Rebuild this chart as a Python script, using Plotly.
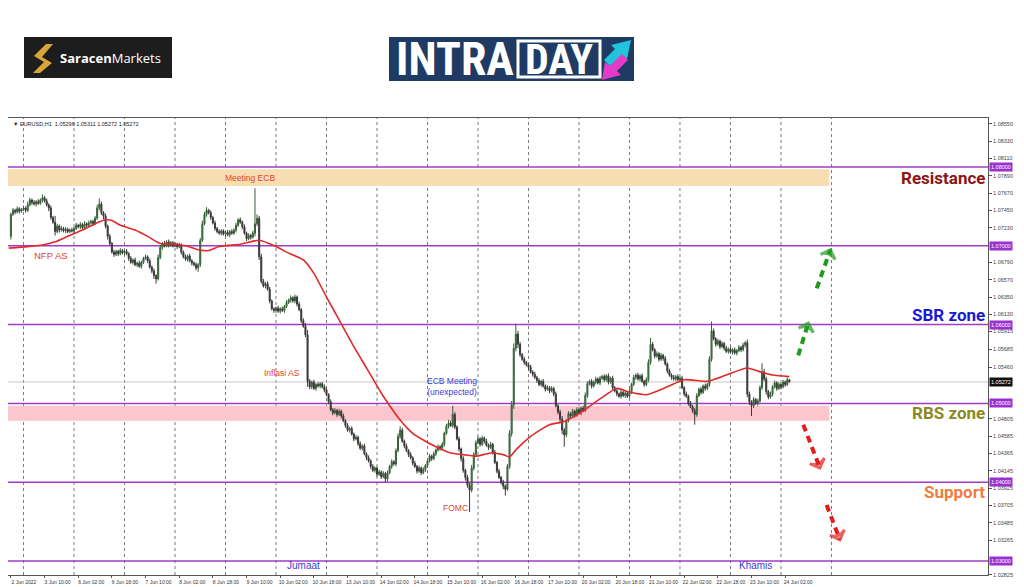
import plotly.graph_objects as go

# ---------------- data (EURUSD H1) ----------------
PIP = 0.0001
first_open = 1.0712

c_0602 = [1.0740, 1.0745, 1.0743, 1.0747, 1.0744, 1.0746]
c_0603 = [1.0748, 1.0745, 1.0752, 1.0758, 1.0755, 1.0753, 1.0756, 1.0754, 1.0758, 1.0761, 1.0757, 1.0752,
          1.0748, 1.0736, 1.0730, 1.0718, 1.0725, 1.0720, 1.0722, 1.0719, 1.0721, 1.0718, 1.0720, 1.0719]
c_0606 = [1.0722, 1.0726, 1.0724, 1.0727, 1.0723, 1.0728, 1.0726, 1.0729, 1.0731, 1.0728, 1.0735, 1.0748,
          1.0753, 1.0742, 1.0738, 1.0725, 1.0712, 1.0703, 1.0692, 1.0689, 1.0693, 1.0690, 1.0694, 1.0691]
c_0607 = [1.0693, 1.0690, 1.0684, 1.0679, 1.0682, 1.0676, 1.0678, 1.0674, 1.0679, 1.0684, 1.0686, 1.0681,
          1.0673, 1.0668, 1.0662, 1.0658, 1.0685, 1.0698, 1.0703, 1.0700, 1.0705, 1.0701, 1.0704, 1.0700]
c_0608 = [1.0702, 1.0699, 1.0701, 1.0692, 1.0686, 1.0683, 1.0687, 1.0681, 1.0678, 1.0676, 1.0672, 1.0676,
          1.0707, 1.0728, 1.0740, 1.0745, 1.0742, 1.0736, 1.0729, 1.0722, 1.0718, 1.0716, 1.0719, 1.0715]
c_0609 = [1.0717, 1.0714, 1.0718, 1.0716, 1.0720, 1.0726, 1.0733, 1.0730, 1.0724, 1.0716, 1.0709, 1.0713,
          1.0711, 1.0716, 1.0728, 1.0735, 1.0686, 1.0655, 1.0649, 1.0652, 1.0645, 1.0630, 1.0620, 1.0618]
c_0610 = [1.0621, 1.0617, 1.0620, 1.0618, 1.0623, 1.0628, 1.0631, 1.0634, 1.0630, 1.0635, 1.0626, 1.0619,
          1.0605, 1.0598, 1.0587, 1.0528, 1.0521, 1.0527, 1.0519, 1.0524, 1.0522, 1.0525, 1.0521, 1.0517]
c_0613 = [1.0511, 1.0502, 1.0492, 1.0488, 1.0491, 1.0486, 1.0490, 1.0484, 1.0478, 1.0472, 1.0466, 1.0468,
          1.0461, 1.0455, 1.0457, 1.0449, 1.0443, 1.0446, 1.0436, 1.0431, 1.0427, 1.0420, 1.0415, 1.0418]
c_0614 = [1.0410, 1.0413, 1.0407, 1.0411, 1.0404, 1.0412, 1.0420, 1.0426, 1.0423, 1.0440, 1.0458, 1.0466,
          1.0452, 1.0446, 1.0440, 1.0435, 1.0431, 1.0424, 1.0420, 1.0414, 1.0418, 1.0412, 1.0416, 1.0421]
c_0615 = [1.0427, 1.0433, 1.0430, 1.0436, 1.0441, 1.0445, 1.0443, 1.0448, 1.0462, 1.0471, 1.0475, 1.0472,
          1.0486, 1.0470, 1.0455, 1.0442, 1.0430, 1.0415, 1.0406, 1.0396, 1.0390, 1.0418, 1.0435, 1.0450]
c_0616 = [1.0455, 1.0448, 1.0456, 1.0452, 1.0447, 1.0444, 1.0448, 1.0438, 1.0425, 1.0414, 1.0406, 1.0400,
          1.0395, 1.0391, 1.0420, 1.0462, 1.0498, 1.0570, 1.0588, 1.0575, 1.0562, 1.0556, 1.0552, 1.0549]
c_0617 = [1.0546, 1.0540, 1.0537, 1.0533, 1.0529, 1.0524, 1.0528, 1.0522, 1.0518, 1.0520, 1.0516, 1.0519,
          1.0512, 1.0497, 1.0489, 1.0480, 1.0466, 1.0460, 1.0478, 1.0487, 1.0484, 1.0490, 1.0485, 1.0492]
c_0620 = [1.0488, 1.0494, 1.0491, 1.0510, 1.0525, 1.0528, 1.0522, 1.0527, 1.0531, 1.0526, 1.0532, 1.0534,
          1.0530, 1.0535, 1.0527, 1.0532, 1.0520, 1.0516, 1.0512, 1.0509, 1.0514, 1.0510, 1.0513, 1.0509]
c_0621 = [1.0515, 1.0524, 1.0533, 1.0536, 1.0531, 1.0535, 1.0528, 1.0524, 1.0530, 1.0552, 1.0575, 1.0568,
          1.0560, 1.0563, 1.0556, 1.0561, 1.0557, 1.0550, 1.0541, 1.0536, 1.0533, 1.0531, 1.0534, 1.0530]
c_0622 = [1.0532, 1.0520, 1.0512, 1.0509, 1.0500, 1.0496, 1.0491, 1.0486, 1.0510, 1.0518, 1.0514, 1.0522,
          1.0519, 1.0524, 1.0556, 1.0592, 1.0582, 1.0575, 1.0579, 1.0572, 1.0576, 1.0570, 1.0566, 1.0569]
c_0623 = [1.0565, 1.0568, 1.0564, 1.0567, 1.0571, 1.0568, 1.0574, 1.0577, 1.0512, 1.0502, 1.0497, 1.0505,
          1.0500, 1.0503, 1.0520, 1.0540, 1.0531, 1.0515, 1.0508, 1.0512, 1.0521, 1.0526, 1.0519, 1.0524]
c_0624 = [1.0521, 1.0527, 1.0524, 1.0530, 1.0527]

# upper / lower wick lengths in pips
u_0602 = [2, 3, 2, 3, 2, 2]
d_0602 = [4, 2, 3, 2, 3, 2]
u_0603 = [3, 2, 4, 3, 2, 3, 2, 3, 2, 4, 2, 3, 2, 3, 2, 8, 3, 2, 3, 2, 3, 2, 2, 3]
d_0603 = [2, 3, 2, 2, 3, 2, 3, 2, 2, 3, 2, 2, 4, 3, 2, 5, 2, 3, 2, 2, 3, 2, 2, 2]
u_0606 = [2, 3, 2, 3, 2, 3, 2, 3, 2, 2, 3, 4, 7, 3, 2, 3, 2, 3, 2, 3, 2, 2, 3, 2]
d_0606 = [3, 2, 2, 3, 2, 2, 3, 2, 2, 3, 2, 2, 3, 3, 4, 3, 4, 3, 2, 3, 2, 3, 2, 2]
u_0607 = [2, 3, 2, 3, 2, 3, 2, 3, 2, 2, 3, 2, 3, 2, 3, 2, 4, 3, 2, 3, 2, 3, 2, 2]
d_0607 = [3, 2, 3, 2, 3, 2, 3, 2, 3, 2, 2, 3, 2, 3, 4, 6, 2, 2, 3, 2, 2, 3, 2, 2]
u_0608 = [3, 2, 3, 2, 2, 3, 2, 3, 2, 2, 3, 2, 3, 4, 3, 4, 2, 3, 2, 3, 2, 3, 2, 2]
d_0608 = [2, 3, 2, 3, 2, 2, 3, 2, 3, 2, 3, 5, 3, 2, 2, 3, 2, 3, 2, 3, 2, 2, 3, 2]
u_0609 = [2, 3, 2, 3, 2, 3, 2, 3, 2, 3, 2, 3, 2, 3, 45, 5, 3, 4, 3, 2, 3, 3, 2, 2]
d_0609 = [3, 2, 3, 2, 2, 3, 2, 2, 3, 2, 3, 2, 3, 2, 4, 3, 4, 3, 2, 3, 2, 3, 2, 3]
u_0610 = [2, 3, 2, 3, 2, 3, 2, 3, 2, 3, 2, 3, 2, 3, 4, 6, 3, 2, 3, 2, 3, 2, 2, 3]
d_0610 = [3, 2, 3, 2, 3, 2, 2, 3, 2, 3, 3, 2, 3, 2, 3, 7, 3, 3, 2, 3, 2, 3, 2, 3]
u_0613 = [3, 2, 3, 2, 3, 2, 3, 2, 3, 2, 3, 2, 3, 2, 3, 2, 3, 2, 3, 2, 3, 2, 3, 2]
d_0613 = [2, 3, 2, 3, 2, 3, 2, 3, 2, 3, 2, 3, 2, 3, 2, 3, 2, 3, 2, 3, 2, 3, 2, 3]
u_0614 = [2, 3, 2, 3, 2, 3, 2, 3, 2, 3, 4, 5, 3, 2, 3, 2, 3, 2, 3, 2, 3, 2, 3, 2]
d_0614 = [3, 2, 3, 2, 4, 3, 2, 3, 2, 3, 2, 3, 2, 3, 2, 3, 2, 3, 2, 3, 2, 3, 2, 3]
u_0615 = [2, 3, 2, 3, 2, 3, 2, 3, 2, 3, 4, 3, 11, 3, 2, 3, 2, 3, 2, 3, 3, 4, 3, 3]
d_0615 = [3, 2, 3, 2, 3, 2, 3, 2, 3, 2, 3, 2, 3, 3, 2, 3, 4, 3, 4, 3, 28, 3, 3, 2]
u_0616 = [3, 2, 3, 2, 3, 2, 3, 2, 3, 2, 3, 2, 3, 2, 3, 4, 5, 6, 13, 4, 3, 2, 3, 2]
d_0616 = [2, 3, 2, 3, 2, 3, 2, 3, 2, 3, 2, 3, 4, 8, 2, 3, 4, 5, 4, 5, 3, 2, 3, 2]
u_0617 = [2, 3, 2, 3, 2, 3, 2, 3, 2, 3, 2, 3, 2, 3, 2, 3, 4, 3, 2, 3, 2, 3, 2, 3]
d_0617 = [3, 2, 3, 2, 3, 2, 3, 2, 3, 2, 3, 2, 3, 2, 3, 4, 5, 15, 3, 2, 3, 2, 3, 2]
u_0620 = [3, 2, 3, 4, 3, 2, 3, 2, 3, 2, 3, 2, 3, 2, 3, 2, 3, 2, 3, 2, 3, 2, 3, 2]
d_0620 = [2, 3, 2, 2, 3, 2, 3, 2, 3, 2, 3, 2, 3, 2, 3, 2, 3, 2, 3, 2, 3, 2, 3, 2]
u_0621 = [3, 2, 3, 2, 3, 2, 3, 2, 3, 4, 8, 3, 2, 3, 2, 3, 2, 3, 2, 3, 2, 3, 2, 3]
d_0621 = [2, 3, 2, 3, 2, 3, 2, 3, 2, 3, 3, 2, 3, 2, 3, 2, 3, 2, 3, 2, 3, 2, 3, 2]
u_0622 = [2, 3, 2, 3, 2, 3, 2, 3, 3, 2, 3, 2, 3, 2, 4, 12, 3, 2, 3, 2, 3, 2, 3, 2]
d_0622 = [3, 2, 3, 2, 3, 2, 3, 13, 3, 2, 3, 2, 3, 2, 3, 3, 2, 3, 2, 3, 2, 3, 2, 3]
u_0623 = [3, 2, 3, 2, 3, 2, 3, 2, 4, 3, 2, 3, 2, 3, 3, 11, 4, 3, 2, 3, 2, 3, 2, 3]
d_0623 = [2, 3, 2, 3, 2, 3, 2, 3, 4, 4, 13, 3, 2, 3, 2, 3, 3, 4, 3, 2, 3, 2, 3, 2]
u_0624 = [2, 3, 2, 3, 1]
d_0624 = [3, 2, 3, 2, 0]

# moving average (red line) sampled at bar numbers
ma_bar = [-1, 8, 15, 21, 27, 34, 40, 45, 48, 52, 59, 65, 71, 78, 83, 89, 94, 99, 109, 118,
          126, 131, 139, 144, 150, 156, 163, 169, 177, 185, 191, 197, 202, 209, 215, 221, 228, 234, 237, 240,
          247, 252, 256, 263, 270, 277, 288, 293, 302, 312, 320, 331, 340, 350, 356, 362, 370]
ma_val = [1.0697, 1.0699, 1.0701, 1.0705, 1.0712, 1.0720, 1.0728, 1.0733, 1.0732, 1.0726,
          1.0720, 1.0712, 1.0703, 1.0702, 1.0700, 1.0695, 1.0694, 1.0699, 1.0702, 1.0707,
          1.0699, 1.0692, 1.0682, 1.0665, 1.0635, 1.0606, 1.0572, 1.0545, 1.0509, 1.0479,
          1.0462, 1.0452, 1.0445, 1.0437, 1.0435, 1.0433, 1.0437, 1.0435, 1.0432, 1.0441,
          1.0458, 1.0467, 1.0473, 1.0477, 1.0487, 1.0500, 1.0519, 1.0515, 1.0511, 1.0521,
          1.0530, 1.0528, 1.0536, 1.0545, 1.0540, 1.0536, 1.0534]

x_tick_text = ["2 Jun 2022", "3 Jun 10:00", "6 Jun 02:00", "6 Jun 18:00", "7 Jun 10:00", "8 Jun 02:00",
               "8 Jun 18:00", "9 Jun 10:00", "10 Jun 02:00", "10 Jun 18:00", "13 Jun 10:00", "14 Jun 02:00",
               "14 Jun 18:00", "15 Jun 10:00", "16 Jun 02:00", "16 Jun 18:00", "17 Jun 10:00", "20 Jun 02:00",
               "20 Jun 18:00", "21 Jun 10:00", "22 Jun 02:00", "22 Jun 18:00", "23 Jun 10:00", "24 Jun 02:00"]
y_tick_vals = [1.08550, 1.08330, 1.08110, 1.07890, 1.07670, 1.07450, 1.07230, 1.06790, 1.06570, 1.06350,
               1.06130, 1.05915, 1.05685, 1.05460, 1.04805, 1.04585, 1.04365, 1.04145, 1.03925, 1.03705,
               1.03485, 1.03265, 1.02825]

levels = [1.08, 1.07, 1.06, 1.05, 1.04, 1.03]
last_price = 1.05272
zone_low = [1.0776, 1.0478]
zone_high = [1.0797, 1.0497]
zone_fill = ["#F6DDB2", "#FBC6CE"]
zone_end_bar = 389

zone_names = ["Resistance", "SBR zone", "RBS zone", "Support"]
zone_name_y = [1.0786, 1.0612, 1.0488, 1.0388]
zone_name_col = ["#8E1414", "#1A1AD2", "#8A8A20", "#F07C40"]

events = ["Meeting ECB", "NFP AS", "Inflasi AS", "ECB Meeting<br>(unexpected)", "FOMC", "Jumaat", "Khamis"]
event_bar = [113.7, 19.0, 128.8, 209.6, 211.5, 139.3, 354.1]
event_price = [1.0786, 1.0688, 1.0539, 1.0522, 1.0367, 1.0294, 1.0294]
event_col = ["#E2452F", "#E2452F", "#E2452F", "#3B3BD0", "#E2452F", "#3B3BD0", "#3B3BD0"]
event_size = [8.5, 9.5, 8.5, 8.5, 8.5, 10, 10]

proj_x0 = [374.2, 383.0, 376.6, 387.7]
proj_y0 = [1.0561, 1.0646, 1.0473, 1.0371]
proj_x1 = [379.0, 389.5, 384.5, 394.0]
proj_y1 = [1.0602, 1.0695, 1.0418, 1.0327]
proj_col = ["#1E9A1E", "#1E9A1E", "#E41B1B", "#E41B1B"]

# ---------------- build series ----------------
close = (c_0602 + c_0603 + c_0606 + c_0607 + c_0608 + c_0609 + c_0610 + c_0613 + c_0614 + c_0615
         + c_0616 + c_0617 + c_0620 + c_0621 + c_0622 + c_0623 + c_0624)
wick_up = (u_0602 + u_0603 + u_0606 + u_0607 + u_0608 + u_0609 + u_0610 + u_0613 + u_0614 + u_0615
           + u_0616 + u_0617 + u_0620 + u_0621 + u_0622 + u_0623 + u_0624)
wick_dn = (d_0602 + d_0603 + d_0606 + d_0607 + d_0608 + d_0609 + d_0610 + d_0613 + d_0614 + d_0615
           + d_0616 + d_0617 + d_0620 + d_0621 + d_0622 + d_0623 + d_0624)
n = len(close)
bars = list(range(n))
opens = [first_open] + close[:-1]
highs = [max(o, c) + wick_up[k] * PIP for k, (o, c) in enumerate(zip(opens, close))]
lows = [min(o, c) - wick_dn[k] * PIP for k, (o, c) in enumerate(zip(opens, close))]

# page geometry (window pixels); the page body has an 8px margin
OFF = 8
W, H = 1024 - OFF, 587 - OFF
PL, PR, PT, PB = 8, 988, 118, 575
X_RANGE = [-1.38, 464.4]
Y_RANGE = [1.02822, 1.08622]


def fx(px):
    return (px - PL) / (PR - PL)


def fy(py):
    return (PB - py) / (PB - PT)


def poly(pts):
    return "M " + " L ".join(f"{fx(a):.5f},{fy(b):.5f}" for a, b in pts) + " Z"


fig = go.Figure()

fig.add_trace(go.Candlestick(
    x=bars, open=opens, high=highs, low=lows, close=close,
    increasing=dict(fillcolor="#3FA04A", line=dict(color="#355f35", width=1)),
    decreasing=dict(fillcolor="#4a2222", line=dict(color="#3a3a3a", width=1)),
    whiskerwidth=0, showlegend=False, hoverinfo="skip"))

fig.add_trace(go.Scatter(x=ma_bar, y=ma_val, mode="lines",
                         line=dict(color="#E02A2A", width=1.6, shape="spline", smoothing=0.6),
                         hoverinfo="skip", showlegend=False))

for k in range(len(proj_x0)):
    fig.add_trace(go.Scatter(
        x=[proj_x0[k], proj_x1[k]], y=[proj_y0[k], proj_y1[k]], mode="lines",
        line=dict(color=proj_col[k], width=4, dash="7px,5px"),
        hoverinfo="skip", showlegend=False))
    fig.add_trace(go.Scatter(
        x=[proj_x0[k], proj_x1[k]], y=[proj_y0[k], proj_y1[k]], mode="markers",
        marker=dict(symbol=["circle", "arrow-wide-open"], size=[0, 11], angleref="previous",
                    color=proj_col[k], line=dict(color=proj_col[k], width=3)),
        hoverinfo="skip", showlegend=False))

shapes = []
for lo, hi, col in zip(zone_low, zone_high, zone_fill):
    shapes.append(dict(type="rect", xref="x", yref="y", x0=X_RANGE[0], x1=zone_end_bar, y0=lo, y1=hi,
                       fillcolor=col, line=dict(width=0), layer="below"))
for g in range(6, 391, 24):
    shapes.append(dict(type="line", xref="x", yref="paper", x0=g, x1=g, y0=0, y1=1,
                       line=dict(color="#7a7a7a", width=1, dash="dot"), layer="below"))
shapes.append(dict(type="line", xref="paper", yref="y", x0=0, x1=1, y0=last_price, y1=last_price,
                   line=dict(color="#c8c8c8", width=1), layer="below"))
for lv in levels:
    shapes.append(dict(type="line", xref="paper", yref="y", x0=0, x1=1, y0=lv, y1=lv,
                       line=dict(color="#A03CC8", width=1.5), layer="below"))

# ----- logos (paper coordinates converted from pixels) -----
shapes.append(dict(type="rect", xref="paper", yref="paper", x0=fx(24), x1=fx(172), y0=fy(78), y1=fy(37),
                   fillcolor="#1d1d1d", line=dict(width=0)))
shapes.append(dict(type="path", xref="paper", yref="paper",
                   path=poly([(46, 44), (53, 44), (42, 57), (52, 63), (40, 73), (33, 73), (44, 62), (34, 56)]),
                   fillcolor="#D8A53A", line=dict(width=0)))
shapes.append(dict(type="rect", xref="paper", yref="paper", x0=fx(389), x1=fx(634), y0=fy(81), y1=fy(37),
                   fillcolor="#1F3A63", line=dict(width=0)))
shapes.append(dict(type="rect", xref="paper", yref="paper", x0=fx(518), x1=fx(600), y0=fy(77), y1=fy(41),
                   fillcolor="rgba(0,0,0,0)", line=dict(color="white", width=3)))
shapes.append(dict(type="path", xref="paper", yref="paper",
                   path=poly([(604, 60), (615, 49), (611, 45), (631, 40), (627, 59), (622, 55), (610, 66)]),
                   fillcolor="#21C4DA", line=dict(width=0)))
shapes.append(dict(type="path", xref="paper", yref="paper",
                   path=poly([(628, 60), (617, 71), (621, 75), (602, 80), (605, 62), (610, 66), (622, 54)]),
                   fillcolor="#E53BC9", line=dict(width=0)))

ann = []
ann.append(dict(xref="paper", yref="paper", x=fx(58), y=fy(58), xanchor="left", yanchor="middle",
                text="<b>Saracen</b>Markets", showarrow=False,
                font=dict(family="Open Sans, Roboto, sans-serif", size=13, color="white")))
ann.append(dict(xref="paper", yref="paper", x=fx(455), y=fy(59.5), xanchor="center", yanchor="middle",
                text="<b>INTRA</b>", showarrow=False,
                font=dict(family="Liberation Sans Narrow, Roboto Condensed, Roboto, sans-serif", size=46,
                          color="white")))
ann.append(dict(xref="paper", yref="paper", x=fx(559), y=fy(59.5), xanchor="center", yanchor="middle",
                text="<b>DAY</b>", showarrow=False,
                font=dict(family="Liberation Sans Narrow, Roboto Condensed, Roboto, sans-serif", size=42,
                          color="white")))

ann.append(dict(xref="paper", yref="paper", x=fx(11), y=fy(123.5), xanchor="left", yanchor="middle",
                text="▼ EURUSD,H1  1.05296 1.05311 1.05272 1.05272", showarrow=False,
                font=dict(family="Liberation Sans, Arial, sans-serif", size=5.5, color="#222")))

for lv in levels:
    ann.append(dict(xref="paper", yref="y", x=1, y=lv, xanchor="left", yanchor="middle", xshift=1,
                    text=f"{lv:.5f}", showarrow=False, bgcolor="#9B30D0", borderpad=1,
                    font=dict(family="Liberation Sans, Arial, sans-serif", size=5.5, color="white")))
ann.append(dict(xref="paper", yref="y", x=1, y=last_price, xanchor="left", yanchor="middle", xshift=1,
                text=f"{last_price:.5f}", showarrow=False, bgcolor="#111111", borderpad=1,
                font=dict(family="Liberation Sans, Arial, sans-serif", size=5.5, color="white")))

for name, yy, col in zip(zone_names, zone_name_y, zone_name_col):
    ann.append(dict(xref="paper", yref="y", x=1, y=yy, xanchor="right", yanchor="middle", xshift=-1,
                    text=f"<b>{name}</b>", showarrow=False,
                    font=dict(family="Roboto, sans-serif", size=17, color=col)))

for t, b, p, col, sz in zip(events, event_bar, event_price, event_col, event_size):
    ann.append(dict(xref="x", yref="y", x=b, y=p, xanchor="center", yanchor="middle", text=t,
                    showarrow=False, font=dict(family="Liberation Sans, Arial, sans-serif", size=sz, color=col)))

fig.update_layout(
    width=W, height=H,
    margin=dict(l=PL - OFF, r=OFF + W - PR, t=PT - OFF, b=OFF + H - PB, pad=0),
    paper_bgcolor="white", plot_bgcolor="white",
    showlegend=False, shapes=shapes, annotations=ann,
    xaxis=dict(range=X_RANGE, tickmode="array", tickvals=[16 * k for k in range(len(x_tick_text))],
               ticktext=x_tick_text, tickfont=dict(family="Liberation Sans, Arial, sans-serif", size=5, color="#333"),
               ticks="outside", ticklen=2, tickcolor="#555", ticklabelshift=13,
               showgrid=False, zeroline=False, showline=True, linecolor="#555", linewidth=1, mirror=True,
               rangeslider=dict(visible=False), fixedrange=True),
    yaxis=dict(range=Y_RANGE, side="right", tickmode="array", tickvals=y_tick_vals,
               ticktext=[f"{v:.5f}" for v in y_tick_vals],
               tickfont=dict(family="Liberation Sans, Arial, sans-serif", size=5.5, color="#444"),
               ticks="outside", ticklen=3, tickcolor="#555",
               showgrid=False, zeroline=False, showline=True, linecolor="#555", linewidth=1, mirror=True,
               fixedrange=True),
)

fig.write_html("out.html")
